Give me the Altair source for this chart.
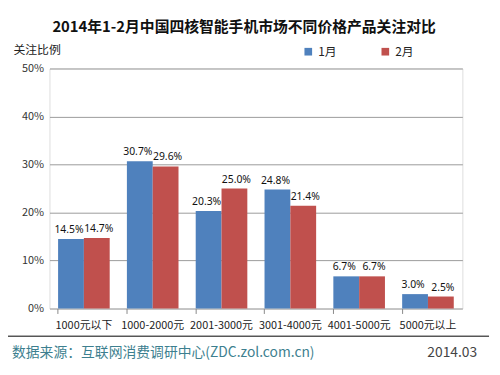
import altair as alt
import pandas as pd

categories = ["1000元以下", "1000-2000元", "2001-3000元", "3001-4000元", "4001-5000元", "5000元以上"]
jan = [14.5, 30.7, 20.3, 24.8, 6.7, 3.0]
feb = [14.7, 29.6, 25.0, 21.4, 6.7, 2.5]
series = ["1月", "2月"]
y_ticks = [0, 0.1, 0.2, 0.3, 0.4, 0.5]
title_text = "2014年1-2月中国四核智能手机市场不同价格产品关注对比"
source_text = "数据来源：互联网消费调研中心(ZDC.zol.com.cn)"
date_text = "2014.03"

rows = []
for c, a, b in zip(categories, jan, feb):
    rows.append({"cat": c, "month": series[0], "v": a / 100, "label": f"{a:.1f}%"})
    rows.append({"cat": c, "month": series[1], "v": b / 100, "label": f"{b:.1f}%"})
df = pd.DataFrame(rows)

FONT = "Noto Sans CJK SC"

xenc = alt.X("cat:N", sort=categories, title=None,
             scale=alt.Scale(paddingInner=0.25, paddingOuter=0.125),
             axis=alt.Axis(labelAngle=0, labelFontSize=11, labelColor="#222222", labelFont=FONT,
                           domain=False, tickColor="#888888", tickSize=5, bandPosition=0,
                           labelPadding=6, labelLimit=100))
yenc = alt.Y("v:Q", scale=alt.Scale(domain=[0, 0.5]),
             axis=alt.Axis(values=y_ticks, format=".0%", labelFontSize=11, labelColor="#333333",
                           labelFont=FONT, gridColor="#9a9a9a", domain=False, ticks=False,
                           labelPadding=6, title="关注比例", titleAngle=0, titleX=-37, titleY=-19,
                           titleAlign="left", titleBaseline="middle", titleFont=FONT,
                           titleFontSize=12, titleFontWeight="normal", titleColor="#222222"))
color = alt.Color("month:N", scale=alt.Scale(domain=series, range=["#4F81BD", "#C0504D"]),
                  legend=alt.Legend(title=None, orient="none", legendX=256, legendY=-23,
                                    direction="horizontal", symbolType="square", symbolSize=60,
                                    symbolStrokeWidth=0, labelFontSize=12, labelFont=FONT,
                                    labelColor="#222222", columnPadding=43, labelOffset=4))

bars = alt.Chart(df).mark_bar().encode(x=xenc, y=yenc, color=color,
                                       xOffset=alt.XOffset("month:N", sort=series))


def label_layer(month, dx):
    return alt.Chart(df).transform_filter(alt.datum.month == month).mark_text(
        dy=-9, dx=dx, fontSize=10.5, font="Noto Sans", color="#111111").encode(
        x=alt.X("cat:N", sort=categories), y="v:Q", text="label:N",
        xOffset=alt.XOffset("month:N", sort=series, scale=alt.Scale(domain=series)))


labels_a = label_layer(series[0], -2)
labels_b = label_layer(series[1], 2)

title = alt.Chart(pd.DataFrame({"t": [title_text]})).mark_text(
    align="center", baseline="middle", fontSize=15, font=FONT, fontWeight="bold",
    color="#111111").encode(x=alt.value(197), y=alt.value(-42), text="t:N")
src = alt.Chart(pd.DataFrame({"t": [source_text]})).mark_text(
    align="left", baseline="middle", fontSize=14, font=FONT, color="#3d7f8f").encode(
    x=alt.value(-38), y=alt.value(288), text="t:N")
date = alt.Chart(pd.DataFrame({"t": [date_text]})).mark_text(
    align="right", baseline="middle", fontSize=14, font=FONT, color="#444444").encode(
    x=alt.value(433), y=alt.value(288), text="t:N")
sep = alt.Chart(pd.DataFrame({"a": [0]})).mark_rule(color="#000000", strokeWidth=1).encode(
    x=alt.value(-45), x2=alt.value(445), y=alt.value(271))

chart = alt.layer(bars, labels_a, labels_b, sep, title, src, date).properties(
    width=418, height=243,
    autosize=alt.AutoSizeParams(type="none"),
    padding={"left": 42, "top": 59, "right": 30, "bottom": 60},
).configure_view(stroke="#888888", strokeWidth=1).configure(background="white")

chart.save("out.html", embed_options={"renderer": "svg", "actions": False})
